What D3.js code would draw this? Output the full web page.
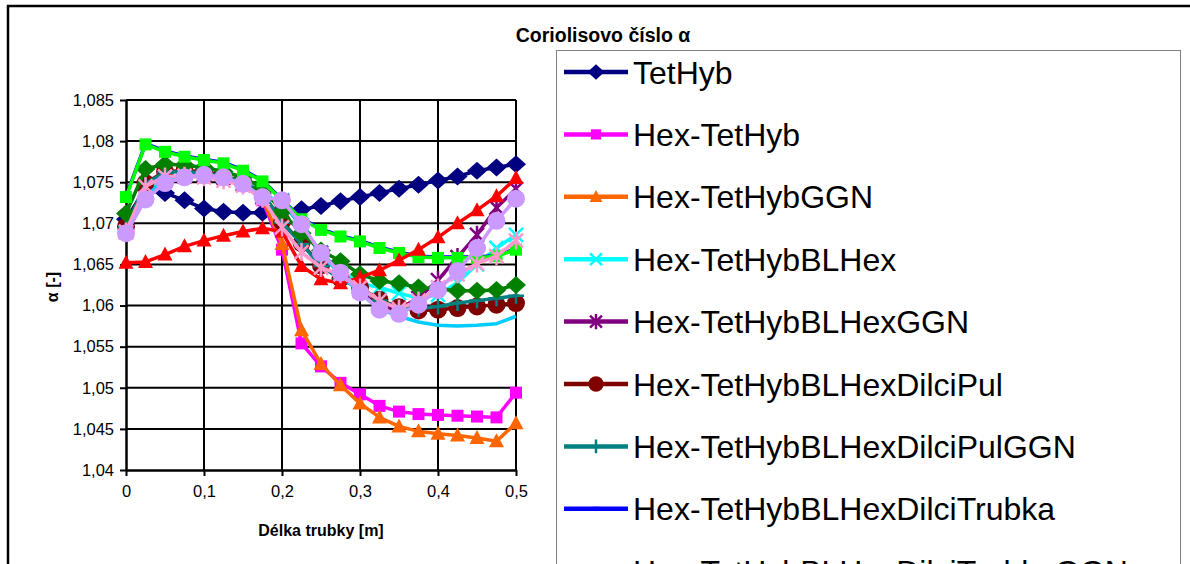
<!DOCTYPE html>
<html lang="cs">
<head>
<meta charset="utf-8">
<title>Coriolisovo číslo α</title>
<script src="https://d3js.org/d3.v7.min.js"></script>
<style>
  body { margin: 0; background: #fff; }
  svg { display: block; font-family: "Liberation Sans", Arial, sans-serif; }
  .tick text { font-size: 16.5px; fill: #000; }
  .axis-title { font-size: 16px; font-weight: bold; }
  .title { font-size: 19.5px; font-weight: bold; }
  .legend text { font-size: 32px; }
</style>
</head>
<body>
<svg width="1190" height="564"></svg>
<script>
// délka trubky [m]
const xValues = [0, 0.025, 0.05, 0.075, 0.1, 0.125, 0.15, 0.175, 0.2, 0.225, 0.25,
                 0.275, 0.3, 0.325, 0.35, 0.375, 0.4, 0.425, 0.45, 0.475, 0.5];
const xTicks = [0, 0.1, 0.2, 0.3, 0.4, 0.5];
const yTicks = [1.04, 1.045, 1.05, 1.055, 1.06, 1.065, 1.07, 1.075, 1.08, 1.085];

// series values
const tetHyb            = [1.0705, 1.0742, 1.0737, 1.0728, 1.0718, 1.0714, 1.0713, 1.0713, 1.0715, 1.0717, 1.0721, 1.0727, 1.0732, 1.0737, 1.0742, 1.0747, 1.0752, 1.0757, 1.0764, 1.0768, 1.0772];
const hexTetHyb         = [1.0690, 1.0735, 1.0755, 1.0758, 1.0758, 1.0755, 1.0748, 1.0728, 1.0668, 1.0554, 1.0526, 1.0506, 1.0492, 1.0478, 1.0471, 1.0468, 1.0467, 1.0466, 1.0465, 1.0464, 1.0494];
const hexTetHybGGN      = [1.0688, 1.0732, 1.0752, 1.0757, 1.0757, 1.0754, 1.0747, 1.0730, 1.0675, 1.0570, 1.0529, 1.0503, 1.0481, 1.0464, 1.0453, 1.0447, 1.0444, 1.0442, 1.0439, 1.0435, 1.0457];
const blHex             = [1.0690, 1.0735, 1.0755, 1.0759, 1.0760, 1.0757, 1.0749, 1.0733, 1.0728, 1.0698, 1.0664, 1.0642, 1.0627, 1.0622, 1.0615, 1.0609, 1.0613, 1.0628, 1.0650, 1.0670, 1.0686];
const blHexGGN          = [1.0690, 1.0733, 1.0752, 1.0757, 1.0759, 1.0756, 1.0748, 1.0732, 1.0727, 1.0697, 1.0664, 1.0640, 1.0618, 1.0598, 1.0596, 1.0609, 1.0631, 1.0659, 1.0686, 1.0719, 1.0742];
const dilciPul          = [1.0696, 1.0749, 1.0763, 1.0764, 1.0763, 1.0758, 1.0750, 1.0737, 1.0702, 1.0676, 1.0649, 1.0633, 1.0622, 1.0607, 1.0598, 1.0594, 1.0595, 1.0597, 1.0599, 1.0601, 1.0603];
const dilciPulGGN       = [1.0696, 1.0748, 1.0762, 1.0763, 1.0761, 1.0757, 1.0751, 1.0737, 1.0701, 1.0675, 1.0648, 1.0632, 1.0621, 1.0606, 1.0598, 1.0596, 1.0599, 1.0603, 1.0606, 1.0609, 1.0612];
const dilciTrubka       = [1.0733, 1.0797, 1.0788, 1.0782, 1.0778, 1.0774, 1.0765, 1.0752, 1.0729, 1.0706, 1.0693, 1.0685, 1.0679, 1.0671, 1.0665, 1.0660, 1.0659, 1.0659, 1.0659, 1.0661, 1.0669];
const dilciTrubkaGGN    = [1.0690, 1.0733, 1.0752, 1.0757, 1.0758, 1.0755, 1.0747, 1.0731, 1.0726, 1.0696, 1.0662, 1.0638, 1.0615, 1.0596, 1.0587, 1.0580, 1.0576, 1.0575, 1.0576, 1.0578, 1.0587];
const series10          = [1.0712, 1.0766, 1.0772, 1.0771, 1.0768, 1.0763, 1.0756, 1.0743, 1.0714, 1.0688, 1.0667, 1.0654, 1.0638, 1.0630, 1.0627, 1.0622, 1.0620, 1.0618, 1.0618, 1.0619, 1.0625];
const series11          = [1.0732, 1.0796, 1.0787, 1.0781, 1.0777, 1.0773, 1.0764, 1.0751, 1.0728, 1.0705, 1.0692, 1.0684, 1.0678, 1.0670, 1.0664, 1.0659, 1.0658, 1.0658, 1.0658, 1.0660, 1.0668];
const series12          = [1.0652, 1.0653, 1.0662, 1.0672, 1.0679, 1.0685, 1.0690, 1.0694, 1.0690, 1.0648, 1.0632, 1.0627, 1.0634, 1.0643, 1.0655, 1.0668, 1.0683, 1.0700, 1.0716, 1.0733, 1.0755];
const series13          = [1.0690, 1.0745, 1.0757, 1.0758, 1.0756, 1.0752, 1.0746, 1.0730, 1.0695, 1.0665, 1.0646, 1.0638, 1.0622, 1.0606, 1.0596, 1.0606, 1.0622, 1.0638, 1.0651, 1.0660, 1.0679];
const series14          = [1.0688, 1.0729, 1.0749, 1.0756, 1.0759, 1.0756, 1.0748, 1.0732, 1.0728, 1.0699, 1.0664, 1.0640, 1.0616, 1.0595, 1.0590, 1.0601, 1.0619, 1.0642, 1.0670, 1.0703, 1.0730];

const seriesNames = ["TetHyb", "Hex-TetHyb", "Hex-TetHybGGN", "Hex-TetHybBLHex", "Hex-TetHybBLHexGGN",
  "Hex-TetHybBLHexDilciPul", "Hex-TetHybBLHexDilciPulGGN", "Hex-TetHybBLHexDilciTrubka",
  "Hex-TetHybBLHexDilciTrubkaGGN", null, null, null, null, null];
const seriesValues = [tetHyb, hexTetHyb, hexTetHybGGN, blHex, blHexGGN, dilciPul, dilciPulGGN,
  dilciTrubka, dilciTrubkaGGN, series10, series11, series12, series13, series14];
const colors  = ["#000080", "#ff00ff", "#ff6600", "#00ffff", "#800080", "#800000", "#008080",
                 "#0000ff", "#00ccff", "#008000", "#00ff00", "#ff0000", "#ff99cc", "#cc99ff"];
const markers = ["diamond", "square", "triangle", "x", "star", "circle", "plus",
                 "dash", "none", "diamond", "square", "triangle", "star", "circle"];

const svg = d3.select("svg");

const x = d3.scaleLinear().domain([0, 0.5]).range([126, 516]);
const y = d3.scaleLinear().domain([1.04, 1.085]).range([470, 100]);
const fmt = d => String(+d.toFixed(3)).replace(".", ",");

// outer chart frame
svg.append("rect").attr("x", 8).attr("y", 6).attr("width", 1300).attr("height", 700)
  .attr("fill", "none").attr("stroke", "#000").attr("stroke-width", 2.5);

// title
svg.append("text").attr("class", "title")
  .attr("x", 603).attr("y", 42).attr("text-anchor", "middle")
  .text("Coriolisovo číslo α");

// gridlines
svg.append("g").selectAll("line").data(yTicks.slice(1)).join("line")
  .attr("x1", x(0)).attr("x2", x(0.5))
  .attr("y1", d => y(d)).attr("y2", d => y(d))
  .attr("stroke", "#000").attr("stroke-width", 2);
svg.append("g").selectAll("line").data(xTicks.slice(1)).join("line")
  .attr("x1", d => x(d)).attr("x2", d => x(d))
  .attr("y1", y(1.04)).attr("y2", y(1.085))
  .attr("stroke", "#000").attr("stroke-width", 2);

// axes
const yAxis = svg.append("g").attr("transform", `translate(${x(0)},0)`)
  .call(d3.axisLeft(y).tickValues(yTicks).tickFormat(fmt).tickSize(6).tickSizeOuter(0).tickPadding(6));
const xAxis = svg.append("g").attr("transform", `translate(0,${y(1.04)})`)
  .call(d3.axisBottom(x).tickValues(xTicks).tickFormat(fmt).tickSize(6).tickSizeOuter(0).tickPadding(9));
[yAxis, xAxis].forEach(a => {
  a.select(".domain").attr("stroke", "#000").attr("stroke-width", 2.5);
  a.selectAll(".tick line").attr("stroke", "#000").attr("stroke-width", 2);
  a.selectAll(".tick text").attr("font-family", null).attr("font-size", null);
});

svg.append("text").attr("class", "axis-title")
  .attr("x", 321).attr("y", 536).attr("text-anchor", "middle")
  .text("Délka trubky [m]");
svg.append("text").attr("class", "axis-title")
  .attr("transform", "translate(58,287) rotate(-90)").attr("text-anchor", "middle")
  .text("α [-]");

// marker drawing
function drawMarker(g, type, color, s) {
  if (type === "diamond") {
    g.append("path").attr("d", `M0,${-9*s}L${10*s},0L0,${9*s}L${-10*s},0Z`).attr("fill", color);
  } else if (type === "square") {
    g.append("rect").attr("x", -6*s).attr("y", -6*s).attr("width", 12*s).attr("height", 12*s).attr("fill", color);
  } else if (type === "triangle") {
    g.append("path").attr("d", `M0,${-8*s}L${7.5*s},${6*s}L${-7.5*s},${6*s}Z`).attr("fill", color);
  } else if (type === "circle") {
    g.append("circle").attr("r", 9*s).attr("fill", color);
  } else if (type === "x") {
    g.append("path").attr("d", `M${-7*s},${-7*s}L${7*s},${7*s}M${-7*s},${7*s}L${7*s},${-7*s}`)
      .attr("stroke", color).attr("stroke-width", 2.5);
  } else if (type === "star") {
    g.append("path").attr("d", `M${-7*s},${-7*s}L${7*s},${7*s}M${-7*s},${7*s}L${7*s},${-7*s}M0,${-9*s}L0,${9*s}`)
      .attr("stroke", color).attr("stroke-width", 2.5);
  } else if (type === "plus") {
    g.append("path").attr("d", `M${-8*s},0L${8*s},0M0,${-8*s}L0,${8*s}`)
      .attr("stroke", color).attr("stroke-width", 2.5);
  } else if (type === "dash") {
    g.append("path").attr("d", `M${-4*s},0L${4*s},0`).attr("stroke", color).attr("stroke-width", 4);
  }
}

// series
const line = d3.line().x((d, i) => x(xValues[i])).y(d => y(d));
seriesValues.forEach((vals, k) => {
  const g = svg.append("g");
  g.append("path").attr("d", line(vals)).attr("fill", "none")
    .attr("stroke", colors[k]).attr("stroke-width", 3.5).attr("stroke-linejoin", "round");
  g.selectAll("g.m").data(vals).join("g").attr("class", "m")
    .attr("transform", (d, i) => `translate(${x(xValues[i])},${y(d)})`)
    .each(function() { drawMarker(d3.select(this), markers[k], colors[k], 1); });
});

// legend
const legend = svg.append("g").attr("class", "legend");
legend.append("rect").attr("x", 556.5).attr("y", 50.5).attr("width", 624).attr("height", 600)
  .attr("fill", "#fff").attr("stroke", "#808080").attr("stroke-width", 1);
seriesNames.forEach((name, k) => {
  if (!name) return;
  const cy = 72 + k * 62.4;
  const e = legend.append("g");
  e.append("line").attr("x1", 564).attr("x2", 628).attr("y1", cy).attr("y2", cy)
    .attr("stroke", colors[k]).attr("stroke-width", 4.5);
  drawMarker(e.append("g").attr("transform", `translate(596,${cy})`), markers[k], colors[k], 0.85);
  e.append("text").attr("x", 633).attr("y", cy + 11.5).text(name);
});
</script>
</body>
</html>
